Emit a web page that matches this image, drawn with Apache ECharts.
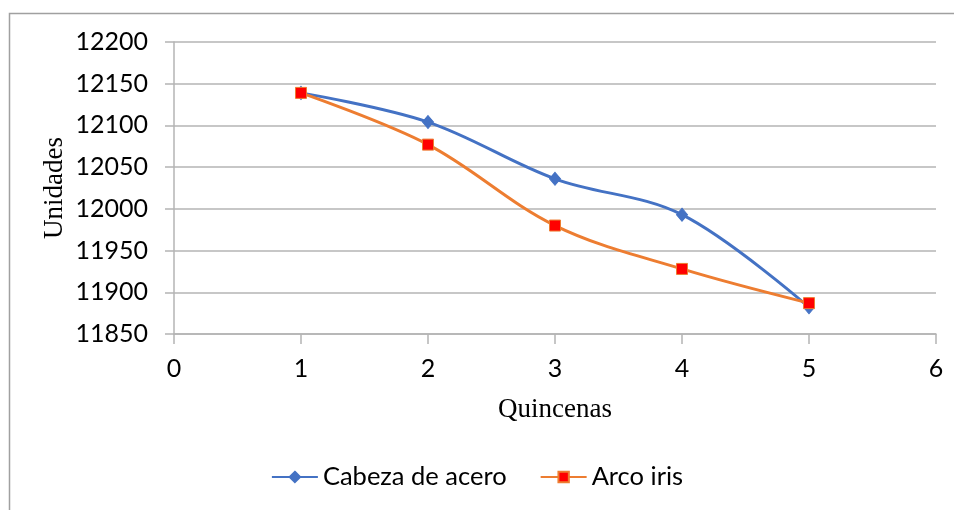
<!DOCTYPE html>
<html>
<head>
<meta charset="utf-8">
<script src="https://cdn.jsdelivr.net/npm/echarts@6/dist/echarts.min.js"></script>
<style>
html,body{margin:0;padding:0;background:#fff;}
#c{width:954px;height:510px;}
</style>
</head>
<body>
<div id="c"></div>
<script>
const xValues = [1, 2, 3, 4, 5];
const cabezaDeAcero = [12139, 12104, 12036, 11993, 11882];
const arcoIris = [12139, 12077, 11980, 11928, 11887];
const seriesNames = ['Cabeza de acero', 'Arco iris'];
const xAxisTitle = 'Quincenas';
const yAxisTitle = 'Unidades';

const chart = echarts.init(document.getElementById('c'), null, {renderer: 'canvas'});
const pair = (xs, ys) => xs.map((x, i) => [x, ys[i]]);
const labelFont = 'Lato, "Open Sans", sans-serif';
const gridColor = '#b4b4b4';

chart.setOption({
  animation: false,
  backgroundColor: '#fff',
  graphic: [{
    type: 'rect',
    shape: {x: 9.5, y: 13.5, width: 1000, height: 600},
    style: {fill: 'none', stroke: '#a0a0a0', lineWidth: 1.5},
    silent: true
  }],
  grid: {left: 174, right: 18, top: 42, bottom: 176, containLabel: false},
  legend: {
    data: seriesNames,
    bottom: 15,
    left: 'center',
    itemWidth: 46,
    itemHeight: 13,
    itemGap: 33,
    textStyle: {fontFamily: labelFont, fontSize: 25.5, color: '#000'}
  },
  xAxis: {
    type: 'value',
    min: 0, max: 6, interval: 1,
    name: xAxisTitle,
    nameLocation: 'middle',
    nameGap: 62,
    nameTextStyle: {fontFamily: '"Liberation Serif", "Times New Roman", serif', fontSize: 27, color: '#000'},
    axisLine: {show: true, lineStyle: {color: gridColor, width: 1.5}},
    axisTick: {show: true, length: 10, lineStyle: {color: gridColor, width: 1.5}},
    axisLabel: {fontFamily: labelFont, fontSize: 25, color: '#000', margin: 22},
    splitLine: {show: false}
  },
  yAxis: {
    type: 'value',
    min: 11850, max: 12200, interval: 50,
    name: yAxisTitle,
    nameLocation: 'middle',
    nameGap: 106,
    nameMoveOverlap: false,
    nameRotate: 90,
    nameTextStyle: {fontFamily: '"Liberation Serif", "Times New Roman", serif', fontSize: 27, color: '#000'},
    axisLine: {show: true, lineStyle: {color: gridColor, width: 1.5}},
    axisTick: {show: true, length: 9, lineStyle: {color: gridColor, width: 1.5}},
    axisLabel: {fontFamily: labelFont, fontSize: 25, color: '#000', margin: 26, formatter: v => String(v)},
    splitLine: {show: true, lineStyle: {color: gridColor, width: 1.5}}
  },
  series: [
    {
      name: seriesNames[0],
      type: 'line',
      data: pair(xValues, cabezaDeAcero),
      smooth: 0.35,
      symbol: 'diamond',
      symbolSize: [11, 13],
      lineStyle: {color: '#4472C4', width: 3},
      itemStyle: {color: '#4472C4', borderColor: '#4472C4', borderWidth: 1},
      z: 2
    },
    {
      name: seriesNames[1],
      type: 'line',
      data: pair(xValues, arcoIris),
      smooth: 0.35,
      symbol: 'rect',
      symbolSize: 11,
      lineStyle: {color: '#ED7D31', width: 3},
      itemStyle: {color: '#FF0000', borderColor: '#ED7D31', borderWidth: 1},
      z: 3
    }
  ]
});
</script>
</body>
</html>
